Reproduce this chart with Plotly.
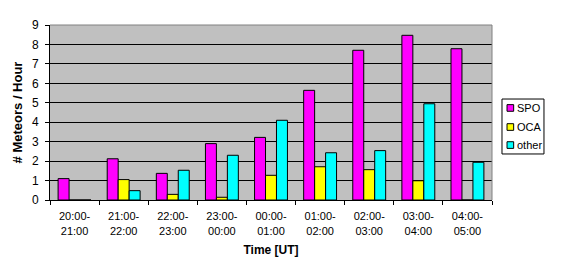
import plotly.graph_objects as go

categories = ["20:00-<br>21:00", "21:00-<br>22:00", "22:00-<br>23:00", "23:00-<br>00:00",
              "00:00-<br>01:00", "01:00-<br>02:00", "02:00-<br>03:00", "03:00-<br>04:00",
              "04:00-<br>05:00"]
spo = [1.10, 2.12, 1.37, 2.90, 3.22, 5.64, 7.70, 8.47, 7.78]
oca = [0, 1.05, 0.29, 0.14, 1.27, 1.71, 1.56, 0.99, 0]
other = [0, 0.48, 1.53, 2.30, 4.10, 2.43, 2.54, 4.95, 1.94]
series_names = ["SPO", "OCA", "other"]
series_colors = ["#FF00FF", "#FFFF00", "#00FFFF"]

font = "Liberation Sans, Arial, sans-serif"
fig = go.Figure()
for name, vals, col in zip(series_names, [spo, oca, other], series_colors):
    fig.add_trace(go.Bar(name=name, x=categories, y=vals,
                         marker=dict(color=col, line=dict(color="black", width=1))))

# custom compact legend (Excel style)
shapes = [
    dict(type="line", xref="paper", yref="paper", x0=0, x1=1, y0=1, y1=1, line=dict(color="#808080", width=1)),
    dict(type="line", xref="paper", yref="paper", x0=1, x1=1, y0=0, y1=1, line=dict(color="#808080", width=1)),
    dict(type="rect", xref="paper", yref="paper", x0=1.0226, x1=1.1176, y0=0.263, y1=0.577,
         line=dict(color="black", width=1), fillcolor="white"),
]
annotations = []
item_y = [0.526, 0.417, 0.314]
for name, col, yy in zip(series_names, series_colors, item_y):
    shapes.append(dict(type="rect", xref="paper", yref="paper", x0=1.034, x1=1.049,
                       y0=yy - 0.019, y1=yy + 0.019, line=dict(color="black", width=1), fillcolor=col))
    annotations.append(dict(xref="paper", yref="paper", x=1.053, y=yy, xanchor="left", yanchor="middle",
                            text=name, showarrow=False, font=dict(size=11), xshift=0))

fig.update_layout(
    width=562, height=270,
    margin=dict(l=50, r=70, t=25, b=70),
    paper_bgcolor="white", plot_bgcolor="#C0C0C0",
    barmode="group", bargap=0.33, bargroupgap=0,
    font=dict(family=font, size=11, color="black"),
    showlegend=False,
    xaxis=dict(showline=True, linecolor="black", linewidth=1, ticks="outside",
               tickson="boundaries", ticklen=4, tickcolor="black", ticklabelstandoff=6,
               title=dict(text="<b>Time [UT]</b>", font=dict(size=12), standoff=10),
               tickfont=dict(size=11)),
    yaxis=dict(range=[0, 9], dtick=1, showgrid=True, gridcolor="black", gridwidth=1,
               showline=True, linecolor="black", linewidth=1, ticks="outside", ticklen=4,
               tickcolor="black", zeroline=False, tickfont=dict(size=12), ticklabelstandoff=4,
               title=dict(text="<b># Meteors / Hour</b>", font=dict(size=13), standoff=6)),
    shapes=shapes,
    annotations=annotations,
)
fig.write_html("out.html")
